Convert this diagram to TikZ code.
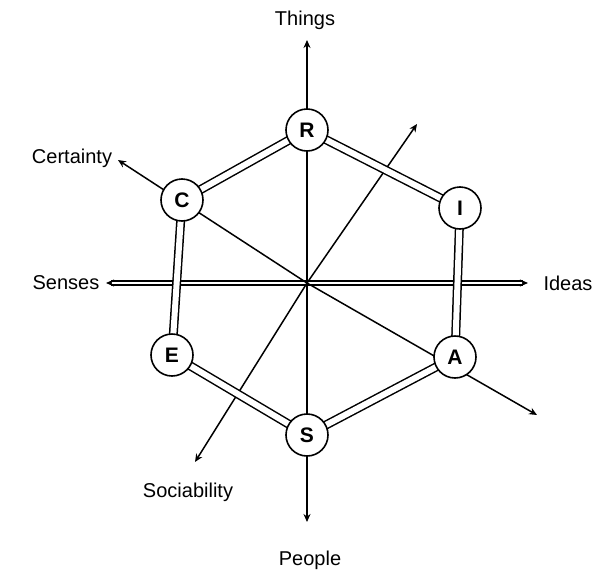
\documentclass[tikz,border=0pt]{standalone}
\usepackage{fontspec}
\setmainfont{Liberation Sans}
\usetikzlibrary{arrows.meta}
\begin{document}
\begin{tikzpicture}[x=1pt,y=-1pt,
  vert/.style={circle,draw,line width=1.6pt,fill=white,minimum size=42pt,inner sep=0pt,font=\fontsize{21}{23}\selectfont\bfseries},
  ring/.style={line width=1.5pt,double distance=6pt,double=white},
  axis/.style={line width=1.5pt,-{Stealth[open,length=8pt,width=7pt]}},
  lab/.style={font=\fontsize{20}{22}\selectfont}]
\useasboundingbox (0,0) rectangle (598,576);
\coordinate (O) at (307,283);
% axes
\coordinate (tT) at (307,40);
\coordinate (tP) at (307,522);
\coordinate (tD) at (106,283);
\coordinate (tI) at (528,283);
\coordinate (tC) at (118,160);
\coordinate (tA) at (537,415);
\coordinate (tS) at (195,462);
\coordinate (tU) at (417,124);
\draw[axis] (O) -- (tT);
\draw[axis] (O) -- (tP);
\draw[axis,double distance=2.5pt,double=white] (O) -- (tD);
\draw[axis,double distance=2.5pt,double=white] (O) -- (tI);
\draw[axis] (O) -- (tC);
\draw[axis] (O) -- (tA);
\draw[axis] (O) -- (tS);
\draw[axis] (O) -- (tU);
% hexagon ring
\coordinate (pR) at (307,130);
\coordinate (pI) at (460,208);
\coordinate (pA) at (455,357);
\coordinate (pS) at (307,435);
\coordinate (pE) at (172,355);
\coordinate (pC) at (182,200);
\draw[ring] (pR) -- (pI) -- (pA) -- (pS) -- (pE) -- (pC) -- cycle;
% vertices
\node[vert] (R) at (pR) {R};
\node[vert] (I) at (pI) {I};
\node[vert] (A) at (pA) {A};
\node[vert] (S) at (pS) {S};
\node[vert] (E) at (pE) {E};
\node[vert] (C) at (pC) {C};
% labels
\node[lab] (lT) at (305,20) {Things};
\node[lab] (lP) at (310,560) {People};
\node[lab] (lD) at (66,283) {Senses};
\node[lab] (lI) at (568,283) {Ideas};
\node[lab] (lC) at (72,158) {Certainty};
\node[lab] (lS) at (188,492) {Sociability};
\end{tikzpicture}
\end{document}
